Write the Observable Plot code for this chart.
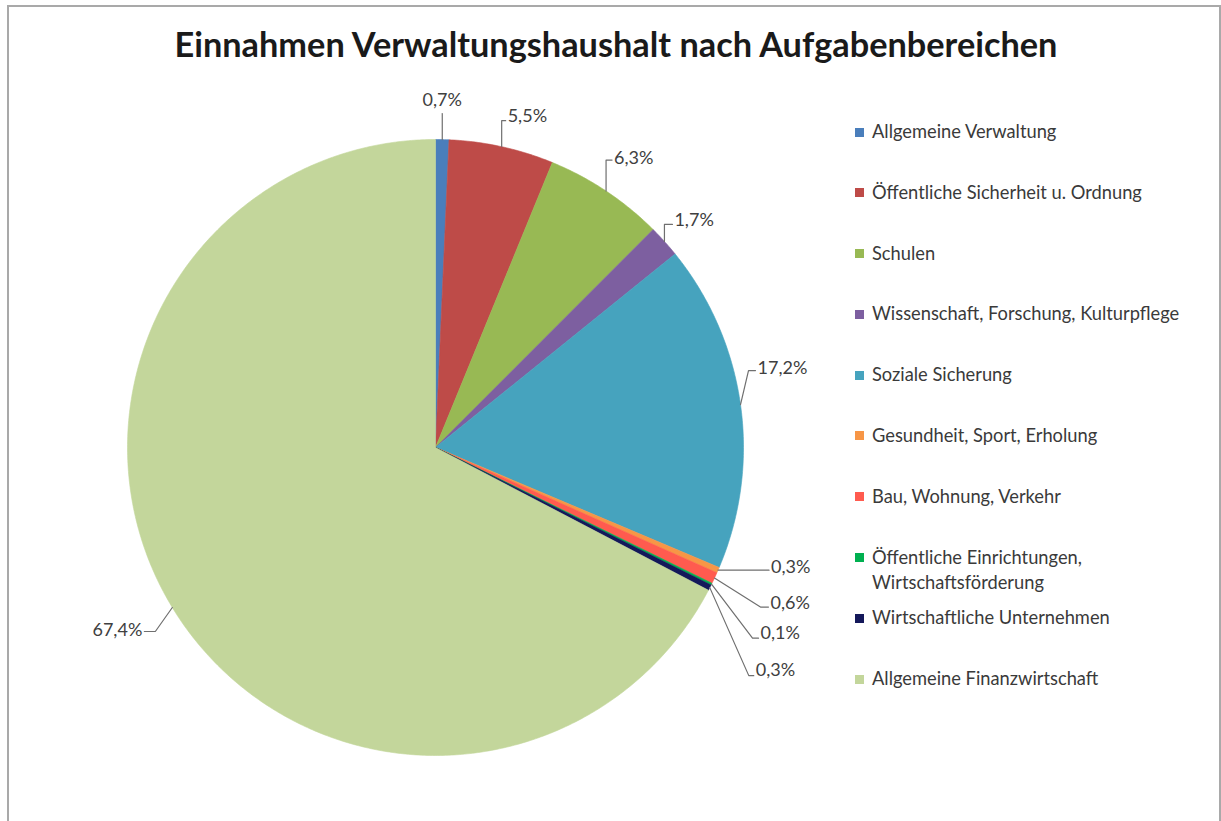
<!DOCTYPE html>
<html><head><meta charset="utf-8">
<script src="https://cdn.jsdelivr.net/npm/d3@7"></script>
<script src="https://cdn.jsdelivr.net/npm/@observablehq/plot@0.6"></script>
<style>
body{margin:0;background:#fff;}
#chart{position:relative;width:1221px;height:821px;overflow:hidden;font-family:Lato,"Open Sans",sans-serif;background:#fff;}
#frame{position:absolute;left:7px;top:5px;width:1214px;height:840px;border:2px solid #a9a9a9;border-bottom:none;box-sizing:border-box;}
#title{position:absolute;left:0;top:24px;width:1232px;text-align:center;font-weight:bold;font-size:34.3px;line-height:40px;color:#1a1a1a;white-space:nowrap;}
#plot{position:absolute;left:0;top:0;}
#legend{position:absolute;left:855px;top:119px;}
.row{position:relative;height:60.8px;}
.sw{position:absolute;left:0;top:8.5px;width:9px;height:9px;}
.lt{position:absolute;left:17px;top:0;font-size:18.3px;line-height:25px;color:#3a3a3a;white-space:nowrap;}
</style>
</head><body>
<div id="chart">
  <div id="frame"></div>
  <div id="plot"></div>
  <div id="title">Einnahmen Verwaltungshaushalt nach Aufgabenbereichen</div>
  <div id="legend"></div>
</div>
<script>
const categories = [
  "Allgemeine Verwaltung",
  "Öffentliche Sicherheit u. Ordnung",
  "Schulen",
  "Wissenschaft, Forschung, Kulturpflege",
  "Soziale Sicherung",
  "Gesundheit, Sport, Erholung",
  "Bau, Wohnung, Verkehr",
  "Öffentliche Einrichtungen, Wirtschaftsförderung",
  "Wirtschaftliche Unternehmen",
  "Allgemeine Finanzwirtschaft"
];
const legendLabels = [
  "Allgemeine Verwaltung",
  "Öffentliche Sicherheit u. Ordnung",
  "Schulen",
  "Wissenschaft, Forschung, Kulturpflege",
  "Soziale Sicherung",
  "Gesundheit, Sport, Erholung",
  "Bau, Wohnung, Verkehr",
  "Öffentliche Einrichtungen,<br>Wirtschaftsförderung",
  "Wirtschaftliche Unternehmen",
  "Allgemeine Finanzwirtschaft"
];
const values = [0.7, 5.5, 6.3, 1.7, 17.2, 0.3, 0.6, 0.1, 0.3, 67.4];
const colors = ["#4A7EBB", "#BE4B48", "#98B954", "#7D5FA0", "#46A3BE", "#F79646", "#FF5B4F", "#00B050", "#14185A", "#C3D69B"];

// label/leader layout (pixel offsets from the slice edge point)
const leaderLayout = [
  {dx: 0,   dy: -26, run: 0,   anchor: "middle", lx: 0,  ly: -13},
  {dx: 0,   dy: -26, run: 4,   anchor: "start",  lx: 2,  ly: -4},
  {dx: 0,   dy: -31, run: 6,   anchor: "start",  lx: 2,  ly: -2},
  {dx: 0,   dy: -17, run: 8,   anchor: "start",  lx: 2,  ly: -4},
  {dx: 8,   dy: -34, run: 7,   anchor: "start",  lx: 2,  ly: -2},
  {dx: 50,  dy: 0,   run: 1,   anchor: "start",  lx: 2,  ly: -3},
  {dx: 46,  dy: 29,  run: 8,   anchor: "start",  lx: 2,  ly: -4},
  {dx: 41,  dy: 54,  run: 6,   anchor: "start",  lx: 2,  ly: -5},
  {dx: 39,  dy: 88,  run: 5,   anchor: "start",  lx: 2,  ly: -5},
  {dx: -17, dy: 24,  run: -11, anchor: "end",    lx: -2, ly: -1, edgeAngle: 238.7}
];

const rows = categories.map((name, i) => ({name, value: values[i]}));
const arcs = d3.pie().sort(null).value(d => d.value)(rows);

const R = 308; // px per data unit (radius)
const slicePts = arcs.flatMap(p => {
  const n = Math.max(2, Math.ceil((p.endAngle - p.startAngle) / (Math.PI / 360)));
  const pts = [{name: p.data.name, x: 0, y: 0}];
  for (let i = 0; i <= n; i++) {
    const a = p.startAngle + (p.endAngle - p.startAngle) * i / n;
    pts.push({name: p.data.name, x: Math.sin(a), y: Math.cos(a)});
  }
  pts.push({name: p.data.name, x: 0, y: 0});
  return pts;
});

const leaderPts = [];
const labelRows = [];
arcs.forEach((p, i) => {
  const L = leaderLayout[i];
  const a = L.edgeAngle != null ? L.edgeAngle * Math.PI / 180 : (p.startAngle + p.endAngle) / 2;
  const E = {x: Math.sin(a), y: Math.cos(a)};
  const B = {x: E.x + L.dx / R, y: E.y - L.dy / R};
  const C = {x: B.x + L.run / R, y: B.y};
  [E, B, C].forEach(q => leaderPts.push({name: p.data.name, x: q.x, y: q.y}));
  labelRows.push({
    x: C.x + L.lx / R, y: C.y - L.ly / R, anchor: L.anchor,
    text: p.data.value.toFixed(1).replace(".", ",") + "%"
  });
});

const textOpts = {x: "x", y: "y", text: "text", fill: "#404040", fontSize: 18, fontFamily: "Lato, 'Open Sans', sans-serif"};
const plot = Plot.plot({
  width: 1221, height: 821,
  marginLeft: 127, marginRight: 478, marginTop: 139, marginBottom: 66,
  x: {domain: [-1, 1], axis: null},
  y: {domain: [-1, 1], axis: null},
  color: {domain: categories, range: colors},
  style: {background: "transparent", overflow: "visible"},
  marks: [
    Plot.line(slicePts, {x: "x", y: "y", z: "name", fill: "name", stroke: "name", strokeWidth: 0.6, curve: "linear"}),
    Plot.line(leaderPts, {x: "x", y: "y", z: "name", stroke: "#6f6f6f", strokeWidth: 1.2, curve: "linear"}),
    Plot.text(labelRows.filter(d => d.anchor === "start"), {...textOpts, textAnchor: "start"}),
    Plot.text(labelRows.filter(d => d.anchor === "middle"), {...textOpts, textAnchor: "middle"}),
    Plot.text(labelRows.filter(d => d.anchor === "end"), {...textOpts, textAnchor: "end"})
  ]
});
document.getElementById("plot").appendChild(plot);

const legend = document.getElementById("legend");
categories.forEach((name, i) => {
  const row = document.createElement("div");
  row.className = "row";
  row.innerHTML = `<div class="sw" style="background:${colors[i]}"></div><div class="lt">${legendLabels[i]}</div>`;
  legend.appendChild(row);
});
</script>
</body></html>
